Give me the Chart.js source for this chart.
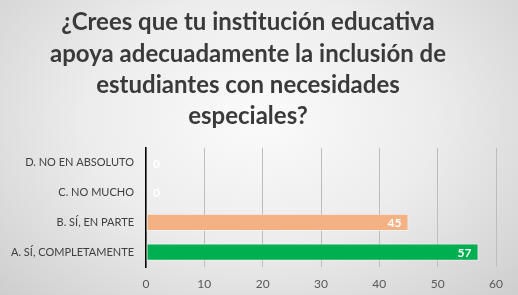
<!DOCTYPE html>
<html>
<head>
<meta charset="utf-8">
<script src="https://cdn.jsdelivr.net/npm/chart.js@4/dist/chart.umd.min.js"></script>
<style>
  html, body { margin: 0; padding: 0; }
  body {
    width: 518px; height: 295px; overflow: hidden;
    background: radial-gradient(ellipse 75% 95% at 50% 40%, #fbfbfb 0%, #ececec 45%, #d6d6d6 80%, #c8c8c8 100%);
  }
  #wrap { width: 518px; height: 295px; position: relative; }
</style>
</head>
<body>
<div id="wrap"><canvas id="c" width="518" height="295"></canvas></div>
<script>
const titleLines = [
  "¿Crees que tu institución educativa",
  "apoya adecuadamente la inclusión de",
  "estudiantes con necesidades",
  "especiales?"
];
const categories = ["D. NO EN ABSOLUTO", "C. NO MUCHO", "B. SÍ, EN PARTE", "A. SÍ, COMPLETAMENTE"];
const values = [0, 0, 45, 57];
const barColors = ["#F4B183", "#F4B183", "#F4B183", "#00B050"];
const xTicks = [0, 10, 20, 30, 40, 50, 60];

const FONT = "Lato, 'Open Sans', sans-serif";

const valueLabels = {
  id: 'valueLabels',
  afterDatasetsDraw(chart) {
    const ctx = chart.ctx;
    const meta = chart.getDatasetMeta(0);
    ctx.save();
    ctx.font = "bold 12px " + FONT;
    ctx.fillStyle = "#ffffff";
    ctx.textBaseline = "middle";
    meta.data.forEach((bar, i) => {
      const v = values[i];
      const txt = String(v);
      if (v === 0) {
        ctx.textAlign = "left";
        ctx.fillText(txt, bar.x + 7, bar.y + 1);
      } else {
        ctx.textAlign = "right";
        ctx.fillText(txt, bar.x - 7, bar.y + 1);
      }
    });
    ctx.restore();
  }
};

new Chart(document.getElementById('c'), {
  type: 'bar',
  data: {
    labels: categories,
    datasets: [{
      data: values,
      backgroundColor: barColors,
      borderColor: "rgba(255,255,255,0.45)",
      borderWidth: 1,
      borderSkipped: false,
      categoryPercentage: 1.0,
      barPercentage: 0.58
    }]
  },
  options: {
    indexAxis: 'y',
    responsive: false,
    animation: false,
    layout: { padding: { left: 0, right: 22, top: 0, bottom: 0 } },
    plugins: {
      legend: { display: false },
      tooltip: { enabled: false },
      title: {
        display: true,
        text: titleLines,
        color: "#3a3a3a",
        font: { family: FONT, size: 24, weight: 'bold', lineHeight: 1.3 },
        padding: { top: 7, bottom: 16 }
      }
    },
    scales: {
      x: {
        min: 0, max: 60,
        afterBuildTicks(scale) { scale.ticks = xTicks.map(v => ({ value: v })); },
        afterFit(scale) { scale.height = 28; },
        grid: { color: "#bdbdbd", lineWidth: 1, drawTicks: false },
        border: { display: false },
        ticks: { color: "#595959", font: { family: FONT, size: 12 }, padding: 10 }
      },
      y: {
        afterFit(scale) { scale.width = 146; },
        grid: { display: false, drawTicks: false },
        border: { display: true, color: "#000000", width: 1.5 },
        ticks: { color: "#404040", font: { family: FONT, size: 11 }, padding: 12 }
      }
    }
  },
  plugins: [valueLabels]
});
</script>
</body>
</html>
